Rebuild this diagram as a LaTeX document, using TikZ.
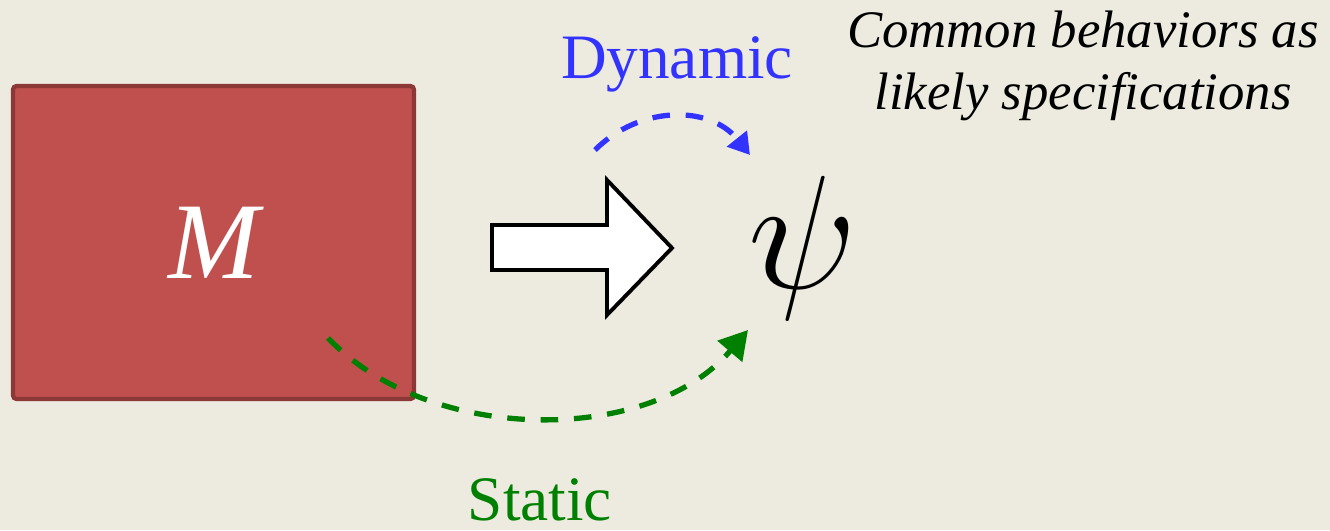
\RequirePackage{fix-cm}
\documentclass[tikz,border=0pt]{standalone}
\usepackage{fontspec}
\setmainfont{Liberation Serif}
\usetikzlibrary{arrows.meta}
\definecolor{SlideBg}{HTML}{EDEAE0}
\definecolor{ModelFill}{HTML}{C0504D}
\definecolor{ModelEdge}{HTML}{8C3836}
\definecolor{DynBlue}{HTML}{3333FF}
\definecolor{StatGreen}{HTML}{008000}

\begin{document}
\begin{tikzpicture}[>=Stealth]
    % Background
    \fill[SlideBg] (0,0) rectangle (13.3,5.3);
    \useasboundingbox (0,0) rectangle (13.3,5.3);

    % Model box
    \node[draw=ModelEdge, fill=ModelFill, line width=1.2pt, rounded corners=1pt,
          minimum width=4.01cm, minimum height=3.13cm, inner sep=0pt,
          font=\fontsize{31}{34}\selectfont\itshape, text=white] (model) at (2.135,2.875) {M};

    % Specification
    \node[font=\fontsize{46}{50}\selectfont] (spec) at (8.03,2.82) {$\psi$};

    % Block arrow
    \draw[line width=1.1pt, fill=white] (4.92,3.05) -- (6.07,3.05) -- (6.07,3.50) -- (6.72,2.82)
        -- (6.07,2.15) -- (6.07,2.60) -- (4.92,2.60) -- cycle;

    % Labels
    \node[anchor=base, DynBlue, font=\fontsize{18}{20}\selectfont] (dyn) at (6.77,4.52) {Dynamic};
    \node[anchor=base, inner sep=0pt, StatGreen, font=\fontsize{18}{20}\selectfont] (stat) at (5.40,0.10) {Static};
    \node[align=center, font=\fontsize{15}{17.6}\selectfont\itshape] (note) at (10.83,4.64)
        {Common behaviors as\\likely specifications};

    % Dashed connectors
    \coordinate (dynstart) at (5.95,3.80);
    \coordinate (dynend) at (7.50,3.75);
    \coordinate (statstart) at (3.28,1.92);
    \coordinate (statend) at (7.48,2.00);
    \draw[DynBlue, line width=1.5pt, dash pattern=on 5pt off 4.5pt,
          arrows={-Triangle[length=6pt, width=7pt]}]
        (dynstart) .. controls (6.40,4.25) and (7.10,4.25) .. (dynend);
    \draw[StatGreen, line width=1.5pt, dash pattern=on 5pt off 4.5pt,
          arrows={-Triangle[length=8pt, width=9pt]}]
        (statstart) .. controls (4.30,0.85) and (6.50,0.85) .. (statend);
\end{tikzpicture}
\end{document}
